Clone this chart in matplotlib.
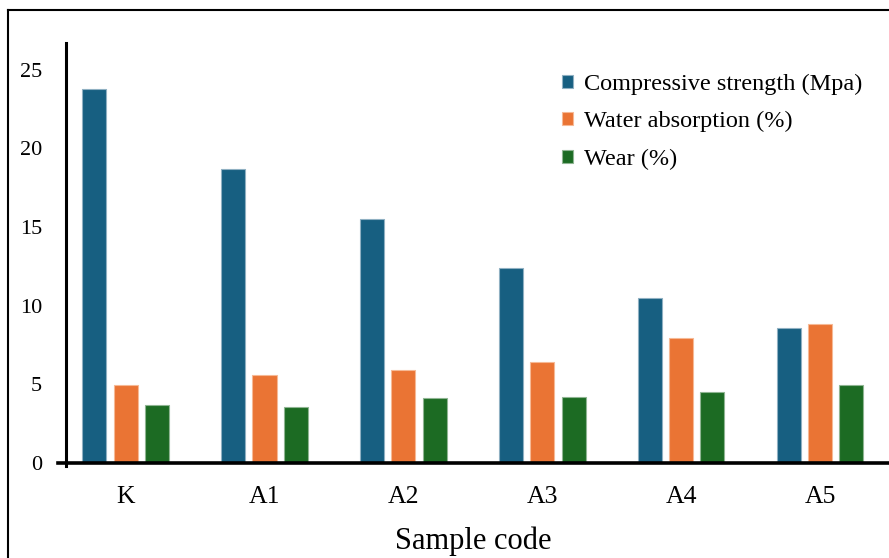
import numpy as np
import matplotlib.pyplot as plt
from matplotlib.lines import Line2D

plt.rcParams["font.family"] = ["Liberation Serif", "DejaVu Serif"]

samples = ["K", "A1", "A2", "A3", "A4", "A5"]
compressive = [23.8, 18.7, 15.5, 12.4, 10.5, 8.55]
water_abs = [4.95, 5.6, 5.9, 6.4, 7.95, 8.8]
wear = [3.65, 3.57, 4.15, 4.2, 4.5, 4.95]

series = [
    ("Compressive strength (Mpa)", compressive, "#175f81", "#8fb0c2"),
    ("Water absorption (%)", water_abs, "#ea7434", "#f6b995"),
    ("Wear (%)", wear, "#1c6b23", "#8fb592"),
]

fig = plt.figure(figsize=(8.89, 5.58), dpi=100)
ax = fig.add_axes([0.0647, 0.1649, 0.9353, 0.758])

x = np.arange(len(samples))
width = 0.173
offset = 0.225
for i, (label, vals, color, edge) in enumerate(series):
    ax.bar(x + (i - 1) * offset, vals, width, color=color, edgecolor=edge,
           linewidth=0.8, label=label, zorder=2)

ax.set_xlim(-0.49, 5.496)
ax.set_ylim(-0.2, 26.7)

for side in ["top", "right"]:
    ax.spines[side].set_visible(False)
ax.spines["left"].set_position(("data", -0.432))
ax.spines["bottom"].set_position(("data", 0))
ax.spines["left"].set_linewidth(2.2)
ax.spines["bottom"].set_linewidth(2.6)
ax.spines["bottom"].set_zorder(3)

ax.set_yticks([0, 5, 10, 15, 20, 25])
ax.set_xticks(x)
ax.set_xticklabels(samples)
ax.tick_params(axis="y", length=0, pad=17, labelsize=16)
ax.tick_params(axis="x", length=0, pad=17, labelsize=18.5)
ax.set_xlabel("Sample code", fontsize=22, labelpad=13)

ax.legend(loc="upper left", bbox_to_anchor=(0.619, 0.89), bbox_transform=fig.transFigure,
          frameon=False, fontsize=17.5, handlelength=0.45, handleheight=0.45,
          handletextpad=0.45, labelspacing=0.68, borderpad=0)

# outer frame (left and top edges visible in the reference)
fig.add_artist(Line2D([0.0095, 0.0095], [0.0, 0.982], color="black", linewidth=1.5,
                      transform=fig.transFigure))
fig.add_artist(Line2D([0.0095, 1.0], [0.982, 0.982], color="black", linewidth=1.5,
                      transform=fig.transFigure))

fig.savefig("out.png", dpi=100)
